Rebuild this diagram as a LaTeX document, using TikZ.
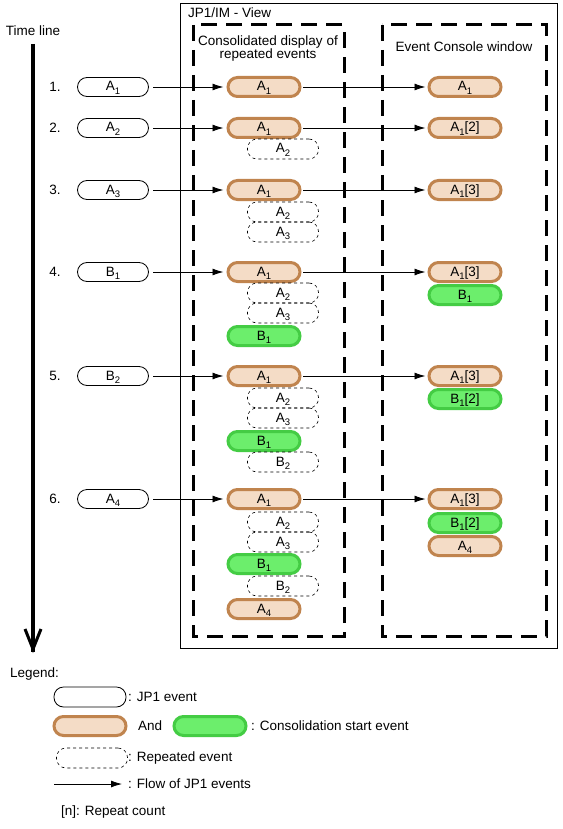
\documentclass[tikz,border=0pt]{standalone}
\usepackage{fontspec}
\setmainfont{Liberation Sans}
\usetikzlibrary{arrows.meta}
\definecolor{peach}{HTML}{F4DCC6}
\definecolor{brownb}{HTML}{C0844E}
\definecolor{greenf}{HTML}{6CEE6C}
\definecolor{greenb}{HTML}{44CC44}
\newcommand\evs[2]{#1\raisebox{-3.5pt}{\fontsize{9.5}{9.5}\selectfont #2}}
\tikzset{
 every node/.style={font=\fontsize{13.5}{13}\selectfont},
 evbase/.style={rectangle, rounded corners=9.5pt, minimum width=71pt, minimum height=19pt, inner sep=0pt, text height=10pt, text depth=2pt},
 jp1/.style={evbase, draw, line width=0.8pt},
 cons/.style={evbase, draw=brownb, fill=peach, line width=3pt, minimum width=72pt},
 start/.style={evbase, draw=greenb, fill=greenf, line width=3pt, minimum width=72pt},
 rep/.style={evbase, draw, line width=0.6pt, dash pattern=on 3pt off 3pt, minimum height=20pt},
 flow/.style={-{Latex[length=11pt,width=7pt]}, line width=0.8pt},
 bigdash/.style={line width=3pt, dash pattern=on 16pt off 9pt},
 lbl/.style={anchor=west, inner sep=0pt},
 num/.style={inner sep=0pt},
}
\begin{document}
\begin{tikzpicture}[x=1pt,y=-1pt]
\useasboundingbox[fill=white] (0,0) rectangle (562,829);

% frames
\draw[line width=0.8pt] (180,3) rectangle (557,648);
\node[lbl] (view) at (188,13) {JP1/IM - View};
\draw[bigdash] (193,25) rectangle (344,636);
\draw[bigdash] (382,25) rectangle (546,636);
\node[align=center, inner sep=0pt] (t1) at (268,48.5) {Consolidated display of\\repeated events};
\node[inner sep=0pt] (t2) at (464,47) {Event Console window};

% time line
\node[inner sep=0pt] (tl) at (33,31) {Time line};
\coordinate (tltop) at (33,44);
\coordinate (tlbot) at (33,649);
\draw[line width=4pt] (tltop) -- ([yshift=-3pt]tlbot);
\draw[line width=3pt] (25,629) -- (tlbot) -- (41,629);

% row 1
\node[num] (n1) at (55,87) {1.};
\node[jp1] (l1) at (113,87) {\evs{A}{1}};
\node[cons] (c1) at (264,87) {\evs{A}{1}};
\node[cons] (v1) at (465,87) {\evs{A}{1}};

% row 2
\node[num] (n2) at (55,128) {2.};
\node[jp1] (l2) at (113,128) {\evs{A}{2}};
\node[cons] (c2) at (264,128) {\evs{A}{1}};
\node[rep] (c2a) at (283,149) {\evs{A}{2}};
\node[cons] (v2) at (465,128) {\evs{A}{1}[2]};

% row 3
\node[num] (n3) at (55,190) {3.};
\node[jp1] (l3) at (113,190) {\evs{A}{3}};
\node[cons] (c3) at (264,190) {\evs{A}{1}};
\node[rep] (c3a) at (283,212) {\evs{A}{2}};
\node[rep] (c3b) at (283,232) {\evs{A}{3}};
\node[cons] (v3) at (465,190) {\evs{A}{1}[3]};

% row 4
\node[num] (n4) at (55,272) {4.};
\node[jp1] (l4) at (113,272) {\evs{B}{1}};
\node[cons] (c4) at (264,272) {\evs{A}{1}};
\node[rep] (c4a) at (283,293) {\evs{A}{2}};
\node[rep] (c4b) at (283,313) {\evs{A}{3}};
\node[start] (c4c) at (264,336) {\evs{B}{1}};
\node[cons] (v4) at (465,272) {\evs{A}{1}[3]};
\node[start] (v4a) at (465,295) {\evs{B}{1}};

% row 5
\node[num] (n5) at (55,376) {5.};
\node[jp1] (l5) at (113,376) {\evs{B}{2}};
\node[cons] (c5) at (264,376) {\evs{A}{1}};
\node[rep] (c5a) at (283,398) {\evs{A}{2}};
\node[rep] (c5b) at (283,418) {\evs{A}{3}};
\node[start] (c5c) at (264,441) {\evs{B}{1}};
\node[rep] (c5d) at (283,462) {\evs{B}{2}};
\node[cons] (v5) at (465,376) {\evs{A}{1}[3]};
\node[start] (v5a) at (465,399) {\evs{B}{1}[2]};

% row 6
\node[num] (n6) at (55,499) {6.};
\node[jp1] (l6) at (113,499) {\evs{A}{4}};
\node[cons] (c6) at (264,499) {\evs{A}{1}};
\node[rep] (c6a) at (283,522) {\evs{A}{2}};
\node[rep] (c6b) at (283,542) {\evs{A}{3}};
\node[start] (c6c) at (264,564) {\evs{B}{1}};
\node[rep] (c6d) at (283,586) {\evs{B}{2}};
\node[cons] (c6e) at (264,609) {\evs{A}{4}};
\node[cons] (v6) at (465,499) {\evs{A}{1}[3]};
\node[start] (v6a) at (465,523) {\evs{B}{1}[2]};
\node[cons] (v6b) at (465,546) {\evs{A}{4}};

% flows
\foreach \i in {1,...,6}{
  \draw[flow, shorten <=4.5pt, shorten >=3pt] (l\i) -- (c\i);
  \draw[flow, shorten <=1.5pt, shorten >=2pt] (c\i) -- (v\i);
}

% legend
\node[lbl] (leg) at (10,674) {Legend:};
\node[jp1, minimum width=72pt, minimum height=20pt] (k1) at (90,697) {};
\node[lbl] (k1t) at (128,697) {: JP1 event};
\node[cons] (k2) at (90,726) {};
\node[lbl] (and) at (138,726) {And};
\node[start] (k3) at (210,726) {};
\node[lbl] (k3t) at (251,726) {: Consolidation start event};
\node[rep] (k4) at (92,758) {};
\node[lbl] (k4t) at (128,758) {: Repeated event};
\coordinate (k5a) at (54,784);
\coordinate (k5b) at (122,784);
\draw[flow] (k5a) -- (k5b);
\node[lbl] (k5t) at (128,784) {: Flow of JP1 events};
\node[lbl] (k6) at (61,812) {[n]: Repeat count};
\end{tikzpicture}
\end{document}
